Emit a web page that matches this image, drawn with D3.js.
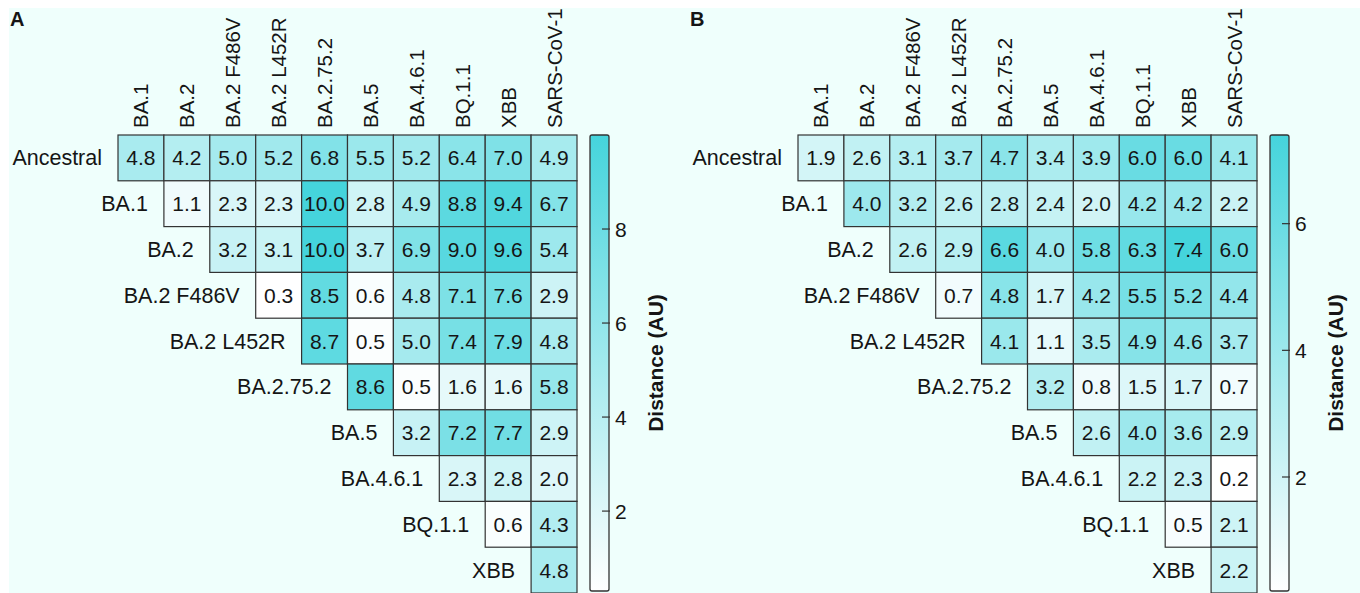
<!DOCTYPE html>
<html>
<head>
<meta charset="utf-8">
<script src="https://cdn.jsdelivr.net/npm/d3@7"></script>
<style>
  html, body { margin: 0; padding: 0; background: #ffffff; }
  svg { display: block; }
  text { font-family: "Liberation Sans", Arial, Helvetica, sans-serif; fill: #151515; }
</style>
</head>
<body>
<svg id="chart" width="1360" height="593"></svg>
<script>
// ---------- data ----------
const rowLabels = ["Ancestral", "BA.1", "BA.2", "BA.2 F486V", "BA.2 L452R", "BA.2.75.2", "BA.5", "BA.4.6.1", "BQ.1.1", "XBB"];
const colLabels = ["BA.1", "BA.2", "BA.2 F486V", "BA.2 L452R", "BA.2.75.2", "BA.5", "BA.4.6.1", "BQ.1.1", "XBB", "SARS-CoV-1"];

// Panel A: each row lists values from the diagonal column to SARS-CoV-1
const valuesA = [
  [4.8, 4.2, 5.0, 5.2, 6.8, 5.5, 5.2, 6.4, 7.0, 4.9],
  [1.1, 2.3, 2.3, 10.0, 2.8, 4.9, 8.8, 9.4, 6.7],
  [3.2, 3.1, 10.0, 3.7, 6.9, 9.0, 9.6, 5.4],
  [0.3, 8.5, 0.6, 4.8, 7.1, 7.6, 2.9],
  [8.7, 0.5, 5.0, 7.4, 7.9, 4.8],
  [8.6, 0.5, 1.6, 1.6, 5.8],
  [3.2, 7.2, 7.7, 2.9],
  [2.3, 2.8, 2.0],
  [0.6, 4.3],
  [4.8]
];
// Panel B
const valuesB = [
  [1.9, 2.6, 3.1, 3.7, 4.7, 3.4, 3.9, 6.0, 6.0, 4.1],
  [4.0, 3.2, 2.6, 2.8, 2.4, 2.0, 4.2, 4.2, 2.2],
  [2.6, 2.9, 6.6, 4.0, 5.8, 6.3, 7.4, 6.0],
  [0.7, 4.8, 1.7, 4.2, 5.5, 5.2, 4.4],
  [4.1, 1.1, 3.5, 4.9, 4.6, 3.7],
  [3.2, 0.8, 1.5, 1.7, 0.7],
  [2.6, 4.0, 3.6, 2.9],
  [2.2, 2.3, 0.2],
  [0.5, 2.1],
  [2.2]
];
const ticksA = [2, 4, 6, 8];
const ticksB = [2, 4, 6];
const panelLetters = ["A", "B"];
const legendTitle = "Distance (AU)";

// ---------- drawing ----------
const svg = d3.select("#chart");
svg.append("rect").attr("x", 9).attr("y", 8).attr("width", 1351).attr("height", 585).attr("fill", "#effffc");

const lowColor = "#ffffff", highColor = "#45d4dc";

function drawPanel(values, ticks, letter, ox) {
  const g = svg.append("g").attr("transform", `translate(${ox},0)`);
  const gridLeft = 118, gridTop = 135, cw = 45.9, ch = 45.8;
  const x = d3.scaleBand().domain(colLabels).range([gridLeft, gridLeft + cw * colLabels.length]);
  const y = d3.scaleBand().domain(rowLabels).range([gridTop, gridTop + ch * rowLabels.length]);

  const cells = [];
  values.forEach((row, i) => row.forEach((v, k) => cells.push({ r: rowLabels[i], c: colLabels[i + k], v })));
  const ext = d3.extent(cells, d => d.v);
  const color = d3.scaleLinear().domain(ext).range([lowColor, highColor]).interpolate(d3.interpolateRgb);

  g.append("text").attr("x", 10).attr("y", 26).attr("font-size", 20).attr("font-weight", "bold").text(letter);

  // column labels
  g.selectAll("text.col").data(colLabels).join("text")
    .attr("class", "col")
    .attr("transform", d => `translate(${x(d) + x.bandwidth() / 2 + 7.5},128) rotate(-90)`)
    .attr("font-size", 20.5)
    .text(d => d);

  // row labels
  g.selectAll("text.row").data(rowLabels).join("text")
    .attr("class", "row")
    .attr("x", (d, i) => x(colLabels[i]) - 16)
    .attr("y", d => y(d) + y.bandwidth() / 2 + 7.5)
    .attr("text-anchor", "end")
    .attr("font-size", 21.5)
    .text(d => d);

  // cells
  g.selectAll("rect.cell").data(cells).join("rect")
    .attr("class", "cell")
    .attr("x", d => x(d.c)).attr("y", d => y(d.r))
    .attr("width", x.bandwidth()).attr("height", y.bandwidth())
    .attr("fill", d => color(d.v))
    .attr("stroke", "#333").attr("stroke-width", 1.2);

  g.selectAll("text.val").data(cells).join("text")
    .attr("class", "val")
    .attr("x", d => x(d.c) + x.bandwidth() / 2)
    .attr("y", d => y(d.r) + y.bandwidth() / 2 + 7.5)
    .attr("text-anchor", "middle")
    .attr("font-size", 21)
    .text(d => d.v.toFixed(1));

  // colorbar
  const barX = 590, barW = 19, barTop = 135, barBot = 591;
  const cy = d3.scaleLinear().domain(ext).range([barBot, barTop]);
  const gradId = "grad" + letter;
  const grad = svg.append("defs").append("linearGradient").attr("id", gradId)
    .attr("x1", 0).attr("y1", 1).attr("x2", 0).attr("y2", 0);
  grad.append("stop").attr("offset", "0%").attr("stop-color", color(ext[0]));
  grad.append("stop").attr("offset", "100%").attr("stop-color", color(ext[1]));
  g.append("rect").attr("x", barX).attr("y", barTop).attr("width", barW).attr("height", barBot - barTop)
    .attr("rx", 2).attr("fill", `url(#${gradId})`).attr("stroke", "#333").attr("stroke-width", 1.3);

  g.selectAll("line.tick").data(ticks).join("line")
    .attr("x1", barX + barW - 7).attr("x2", barX + barW + 1)
    .attr("y1", d => cy(d)).attr("y2", d => cy(d))
    .attr("stroke", "#333").attr("stroke-width", 1.2);
  g.selectAll("text.tick").data(ticks).join("text")
    .attr("x", barX + barW + 6).attr("y", d => cy(d) + 7.5)
    .attr("font-size", 21)
    .text(d => d);

  g.append("text")
    .attr("transform", `translate(${barX + barW + 54},${(barTop + barBot) / 2}) rotate(-90)`)
    .attr("text-anchor", "middle").attr("font-size", 21).attr("font-weight", "bold")
    .text(legendTitle);
}

drawPanel(valuesA, ticksA, panelLetters[0], 0);
drawPanel(valuesB, ticksB, panelLetters[1], 680);
</script>
</body>
</html>
